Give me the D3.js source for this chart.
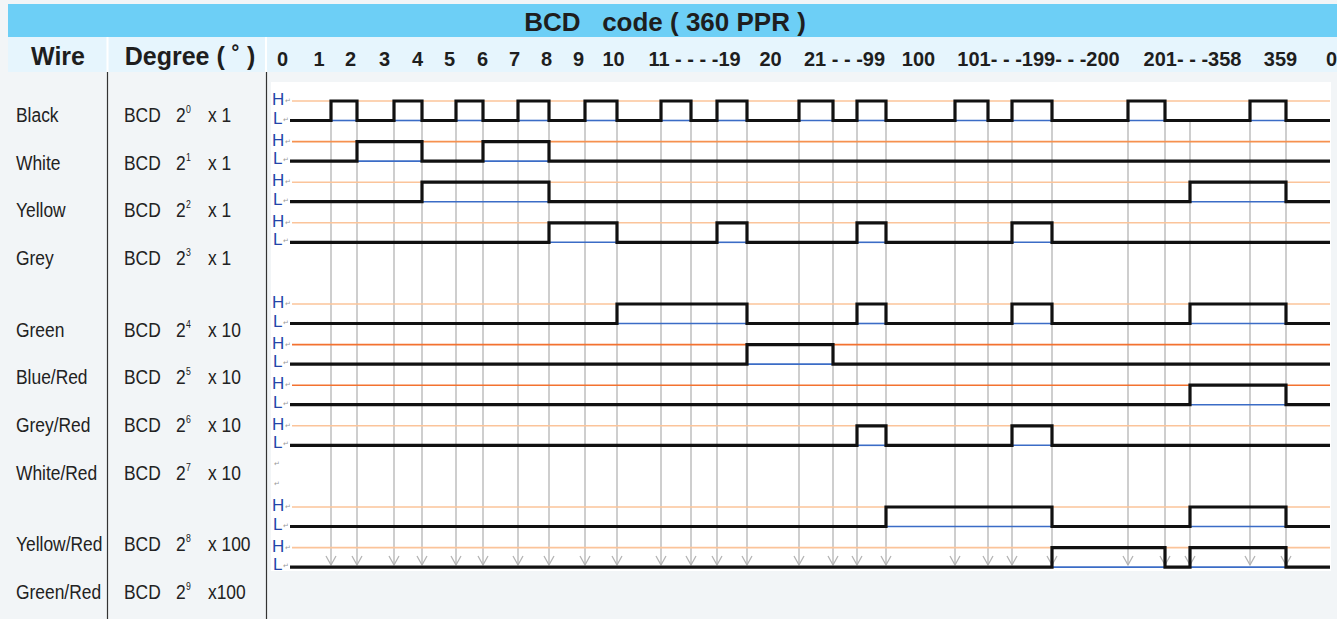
<!DOCTYPE html>
<html><head><meta charset="utf-8">
<script src="https://cdn.jsdelivr.net/npm/d3@7"></script>
<style>html,body{margin:0;padding:0;background:#f2f5f7;overflow:hidden}svg{display:block}</style>
</head><body><svg id="c" width="1337" height="619"></svg>
<script>
// ---------- data ----------
const title = "BCD   code ( 360 PPR )";
const headWire = "Wire";
const headDegree = "Degree ( ˚ )";
const wires = ["Black","White","Yellow","Grey","Green","Blue/Red","Grey/Red","White/Red","Yellow/Red","Green/Red"];
const bcdExp = ["0","1","2","3","4","5","6","7","8","9"];
const multLabels = ["x 1","x 1","x 1","x 1","x 10","x 10","x 10","x 10","x 100","x100"];
const multGroup = [1,1,1,1,10,10,10,10,100,100];
const tickLabels = ["0","1","2","3","4","5","6","7","8","9","10","11 - - - -19","20","21 - - -99","100","101- - -199- - -200","201- - -358","359","0"];
const tickPos    = [12,48.5,80,114,147,179,212,244,276,308,343,424,500,574,648,768,922,1010,1061];
// transition positions along the degree axis (chart units)
const edges = [61,87,124,152,186,213,248,279,315,347,391,421,447,477,529,563,587,616,685,718,742,782,858,895,920,980,1016];
// high intervals per wire, as [rise edge index, fall edge index]
const highs = [
  [[0,1],[2,3],[4,5],[6,7],[8,9],[10,11],[12,13],[14,15],[16,17],[18,19],[20,21],[22,23],[25,26]],
  [[1,3],[5,7]],
  [[3,7],[24,26]],
  [[7,9],[12,13],[16,17],[20,21]],
  [[9,13],[16,17],[20,21],[24,26]],
  [[13,15]],
  [[24,26]],
  [[16,17],[20,21]],
  [[17,21],[24,26]],
  [[21,23],[24,26]]
];
const axisStart = 20, hStart = 22, axisEnd = 1060;

// ---------- styles ----------
const hLineColor = ["#fbc49a","#f6914f","#fbc49a","#fbc49a","#fbc49a","#f37230","#f37230","#fbc49a","#fbc49a","#fbc49a"];
const FONT = "'Liberation Sans', Arial, sans-serif";

// ---------- layout ----------
const svg = d3.select("#c");
const W = 1337, H = 619;
const x = d3.scaleLinear().domain([0, 1060]).range([270, 1330]);
const groups = Array.from(new Set(multGroup));
const gIdx = multGroup.map(g => groups.indexOf(g));
const waveSlot = wires.map((d,i) => i + gIdx[i]);
const labelSlot = wires.map((d,i) => i + 0.5*gIdx[i]);
const yWave = d3.scaleLinear().domain([0, 11]).range([101, 547.6]);
const amp = 19.5;
const yLabel = d3.scaleLinear().domain([0, 10]).range([122, 599]);

svg.append("rect").attr("width", W).attr("height", H).attr("fill", "#f2f5f7");
// title bar
svg.append("rect").attr("x", 8).attr("y", 4).attr("width", W-8).attr("height", 33).attr("fill", "#6dcff6");
svg.append("text").attr("x", 665).attr("y", 31).attr("text-anchor","middle")
  .attr("font-family", FONT).attr("font-weight","bold").attr("font-size", 26).attr("fill","#1e1e1e")
  .style("white-space","pre").text(title);
// header row
svg.append("rect").attr("x", 8).attr("y", 37).attr("width", W-8).attr("height", 35).attr("fill", "#e6f5fd");
[107.5, 266].forEach(v => svg.append("rect").attr("x", v-1).attr("y", 37).attr("width", 2).attr("height", 35).attr("fill","#fff"));
svg.append("text").attr("x", 58).attr("y", 65).attr("text-anchor","middle")
  .attr("font-family", FONT).attr("font-weight","bold").attr("font-size", 25).attr("fill","#1e1e1e").text(headWire);
svg.append("text").attr("x", 190).attr("y", 65).attr("text-anchor","middle")
  .attr("font-family", FONT).attr("font-weight","bold").attr("font-size", 25).attr("fill","#1e1e1e").text(headDegree);

// degree axis
const ax = svg.append("g").attr("transform","translate(0,66)")
  .call(d3.axisTop(x).tickValues(tickPos).tickSize(0).tickPadding(0).tickFormat((d,i) => tickLabels[i]));
ax.select(".domain").remove();
ax.selectAll("text").attr("font-family", FONT).attr("font-weight","bold").attr("font-size", 20)
  .attr("fill","#1e1e1e").style("white-space","pre");

// column separators
[107.5, 266.5].forEach(v => svg.append("line").attr("x1", v).attr("x2", v).attr("y1", 72).attr("y2", H)
  .attr("stroke","#333").attr("stroke-width", 1.2));

// left labels (condensed)
const narrow = (tx, ty, size, str) => svg.append("text")
  .attr("transform", `translate(${tx},${ty}) scale(0.87,1)`)
  .attr("font-family", FONT).attr("font-size", size).attr("fill","#222").text(str);
wires.forEach((w,i) => {
  const y = yLabel(labelSlot[i]);
  narrow(16, y, 20, w);
  narrow(124, y, 20, "BCD");
  narrow(176, y, 20, "2");
  narrow(186, y-9, 10, bcdExp[i]);
  narrow(208, y, 20, multLabels[i]);
});

// chart panel
svg.append("rect").attr("x", 271).attr("y", 82).attr("width", 1060).attr("height", 489).attr("fill","#fff");

// grey guide lines with arrows
const gTop = yWave(0) + amp, gBot = 565;
const guides = svg.append("g").attr("stroke","#b4b4b4").attr("stroke-width",1.3).attr("fill","none");
edges.forEach(e => {
  const xe = x(e);
  guides.append("line").attr("x1", xe).attr("x2", xe).attr("y1", gTop).attr("y2", gBot);
  guides.append("path").attr("d", `M${xe-5},${gBot-9}L${xe},${gBot}L${xe+5},${gBot-9}`);
});

// rows
const line = d3.line().x(d => x(d[0])).y(d => d[1]);
wires.forEach((w,i) => {
  const yH = yWave(waveSlot[i]), yL = yH + amp;
  // H / L labels
  svg.append("text").attr("x", 272).attr("y", yH + 4).attr("font-family", FONT).attr("font-size", 17).attr("fill","#2445a8").text("H");
  svg.append("text").attr("x", 285).attr("y", yH + 2).attr("font-family", FONT).attr("font-size", 7).attr("fill","#999").text("↵");
  svg.append("text").attr("x", 273).attr("y", yL + 3).attr("font-family", FONT).attr("font-size", 17).attr("fill","#2445a8").text("L");
  svg.append("text").attr("x", 283).attr("y", yL + 1).attr("font-family", FONT).attr("font-size", 7).attr("fill","#999").text("↵");
  // H reference
  svg.append("line").attr("x1", x(hStart)).attr("x2", x(axisEnd)).attr("y1", yH).attr("y2", yH)
    .attr("stroke", hLineColor[i]).attr("stroke-width", 1.6);
  // L reference under highs
  highs[i].forEach(p => svg.append("line").attr("x1", x(edges[p[0]])).attr("x2", x(edges[p[1]]))
    .attr("y1", yL).attr("y2", yL).attr("stroke","#3b6cc6").attr("stroke-width",1.6));
  // signal
  const pts = [[axisStart, yL]];
  highs[i].forEach(p => {
    const a = edges[p[0]], b = edges[p[1]];
    pts.push([a, yL],[a, yH],[b, yH],[b, yL]);
  });
  pts.push([axisEnd, yL]);
  svg.append("path").attr("d", line(pts)).attr("fill","none").attr("stroke","#111")
    .attr("stroke-width", 3.2).attr("stroke-linejoin","miter");
});
// empty line marks in the gap before the x100 group
const gapSlot = waveSlot[multGroup.indexOf(100)] - 1;
[0, amp].forEach(dy => svg.append("text").attr("x", 274).attr("y", yWave(gapSlot) + dy).attr("font-family", FONT)
  .attr("font-size", 7).attr("fill","#999").text("↵"));
</script></body></html>
